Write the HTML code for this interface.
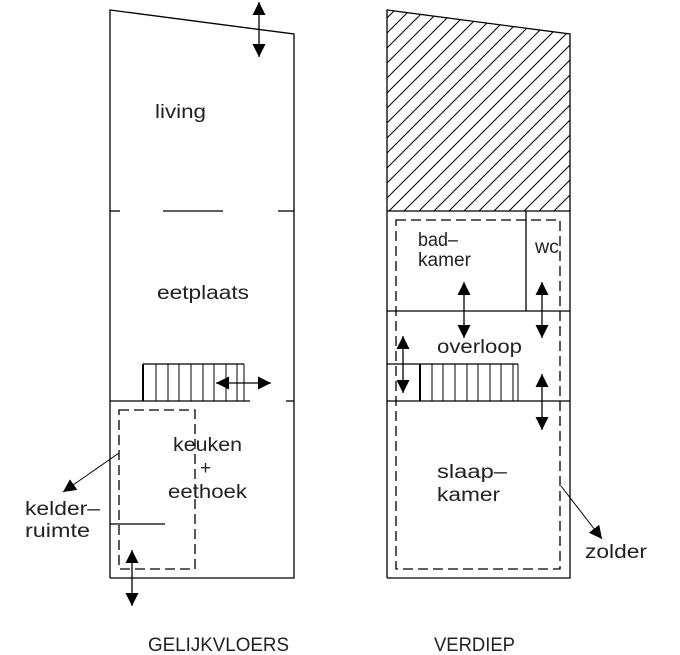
<!DOCTYPE html>
<html><head><meta charset="utf-8"><style>
html,body{margin:0;padding:0;background:#fff;}
svg{display:block;}
text{font-family:"Liberation Sans",sans-serif;font-size:19px;fill:#222;}
</style></head><body>
<svg width="680" height="655" viewBox="0 0 680 655" xmlns="http://www.w3.org/2000/svg">
<defs>
<pattern id="h" patternUnits="userSpaceOnUse" width="15" height="15">
<line x1="0" y1="15" x2="15" y2="0" stroke="#000" stroke-width="1"/>
<line x1="-2" y1="2" x2="2" y2="-2" stroke="#000" stroke-width="1"/>
<line x1="13" y1="17" x2="17" y2="13" stroke="#000" stroke-width="1"/>
</pattern>
<marker id="a" viewBox="0 0 10 10" refX="10" refY="5" markerWidth="13" markerHeight="13" markerUnits="userSpaceOnUse" orient="auto">
<path d="M0,0 L10,5 L0,10 z" fill="#000"/>
</marker>
</defs>
<g stroke="#000" stroke-width="1.3" fill="none">
<polyline points="110,578 110,10 294,34 294,578 110,578"/>
<line x1="110" y1="211" x2="120" y2="211"/>
<line x1="163" y1="211" x2="223" y2="211"/>
<line x1="278" y1="211" x2="294" y2="211"/>
<line x1="110" y1="401" x2="250" y2="401"/>
<line x1="286" y1="401" x2="294" y2="401"/>
<line x1="143" y1="364" x2="244" y2="364"/>
<line x1="143" y1="364" x2="143" y2="401" stroke-width="2"/>
<g stroke-width="1">
<line x1="156" y1="364" x2="156" y2="401"/><line x1="168" y1="364" x2="168" y2="401"/>
<line x1="179" y1="364" x2="179" y2="401"/><line x1="191" y1="364" x2="191" y2="401"/>
<line x1="203" y1="364" x2="203" y2="401"/><line x1="214" y1="364" x2="214" y2="401"/>
<line x1="226" y1="364" x2="226" y2="401"/><line x1="237" y1="364" x2="237" y2="401"/>
<line x1="244" y1="364" x2="244" y2="401"/>
</g>
<rect x="119" y="410" width="76" height="159" stroke-dasharray="10,5"/>
<line x1="110" y1="524" x2="165" y2="524"/>
<line x1="259" y1="30" x2="259" y2="2" marker-end="url(#a)"/>
<line x1="259" y1="30" x2="259" y2="57" marker-end="url(#a)"/>
<line x1="243" y1="383" x2="216" y2="383" marker-end="url(#a)"/>
<line x1="243" y1="383" x2="271" y2="383" marker-end="url(#a)"/>
<line x1="132" y1="578" x2="132" y2="550" marker-end="url(#a)"/>
<line x1="132" y1="578" x2="132" y2="606" marker-end="url(#a)"/>
<line x1="119" y1="453" x2="63" y2="492" stroke-width="1" marker-end="url(#a)"/>

<polygon points="387,10 570,34 570,211 387,211" fill="url(#h)" stroke="none"/>
<polyline points="387,578 387,10 570,34 570,578 387,578"/>
<line x1="387" y1="211" x2="570" y2="211"/>
<line x1="387" y1="311" x2="570" y2="311"/>
<line x1="526" y1="211" x2="526" y2="311"/>
<line x1="387" y1="364" x2="518" y2="364"/>
<line x1="387" y1="401" x2="570" y2="401"/>
<line x1="420" y1="364" x2="420" y2="401" stroke-width="2"/>
<g stroke-width="1">
<line x1="432" y1="364" x2="432" y2="401"/><line x1="443" y1="364" x2="443" y2="401"/>
<line x1="455" y1="364" x2="455" y2="401"/><line x1="467" y1="364" x2="467" y2="401"/>
<line x1="478" y1="364" x2="478" y2="401"/><line x1="490" y1="364" x2="490" y2="401"/>
<line x1="501" y1="364" x2="501" y2="401"/><line x1="513" y1="364" x2="513" y2="401"/>
<line x1="518" y1="364" x2="518" y2="401"/>
</g>
<rect x="396" y="220" width="164" height="349" stroke-dasharray="10,5"/>
<line x1="464" y1="310" x2="464" y2="282" marker-end="url(#a)"/>
<line x1="464" y1="310" x2="464" y2="338" marker-end="url(#a)"/>
<line x1="542" y1="310" x2="542" y2="282" marker-end="url(#a)"/>
<line x1="542" y1="310" x2="542" y2="338" marker-end="url(#a)"/>
<line x1="403" y1="364" x2="403" y2="336" marker-end="url(#a)"/>
<line x1="403" y1="364" x2="403" y2="393" marker-end="url(#a)"/>
<line x1="542" y1="402" x2="542" y2="374" marker-end="url(#a)"/>
<line x1="542" y1="402" x2="542" y2="430" marker-end="url(#a)"/>
<line x1="561" y1="486" x2="602" y2="539" stroke-width="1" marker-end="url(#a)"/>
</g>
<g lengthAdjust="spacingAndGlyphs">
<text x="155" y="118" textLength="51" lengthAdjust="spacingAndGlyphs">living</text>
<text x="157" y="299" textLength="92" lengthAdjust="spacingAndGlyphs">eetplaats</text>
<text x="173" y="451" textLength="69" lengthAdjust="spacingAndGlyphs">keuken</text>
<text x="200" y="474" font-size="20">+</text>
<text x="168" y="498" textLength="79" lengthAdjust="spacingAndGlyphs">eethoek</text>
<text x="25" y="515" textLength="75" lengthAdjust="spacingAndGlyphs">kelder–</text>
<text x="25" y="537" textLength="65" lengthAdjust="spacingAndGlyphs">ruimte</text>
<text x="418" y="246" textLength="40" lengthAdjust="spacingAndGlyphs">bad–</text>
<text x="418" y="266" textLength="53" lengthAdjust="spacingAndGlyphs">kamer</text>
<text x="535" y="253" font-size="15" textLength="24" lengthAdjust="spacingAndGlyphs">wc</text>
<text x="437" y="353" textLength="85" lengthAdjust="spacingAndGlyphs">overloop</text>
<text x="437" y="478" textLength="70" lengthAdjust="spacingAndGlyphs">slaap–</text>
<text x="437" y="501" textLength="63" lengthAdjust="spacingAndGlyphs">kamer</text>
<text x="585" y="558" textLength="62" lengthAdjust="spacingAndGlyphs">zolder</text>
<text x="148" y="651" textLength="141" lengthAdjust="spacingAndGlyphs">GELIJKVLOERS</text>
<text x="434" y="651" textLength="81" lengthAdjust="spacingAndGlyphs">VERDIEP</text>
</g>
</svg>
</body></html>
